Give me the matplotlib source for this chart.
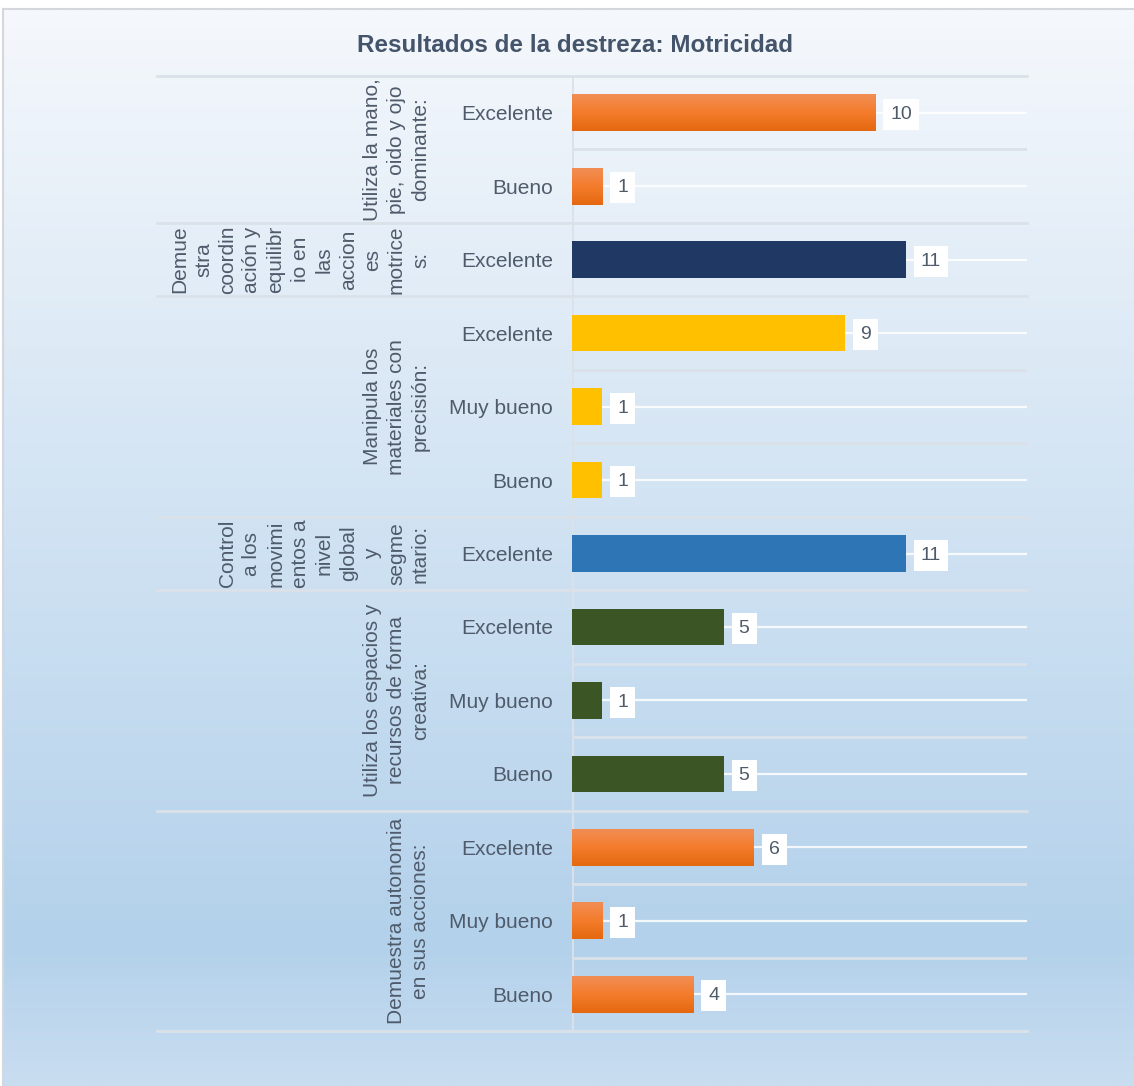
import numpy as np
import matplotlib.pyplot as plt
from matplotlib.colors import LinearSegmentedColormap

plt.rcParams['font.family'] = ['Liberation Sans', 'DejaVu Sans']

# datos
group_labels = [
    'Utiliza la mano,\npie, oido y ojo\ndominante:',
    'Demue\nstra\ncoordin\nación y\nequilibr\nio en\nlas\naccion\nes\nmotrice\ns:',
    'Manipula los\nmateriales con\nprecisión:',
    'Control\na los\nmovimi\nentos a\nnivel\nglobal\ny\nsegme\nntario:',
    'Utiliza los espacios y\nrecursos de forma\ncreativa:',
    'Demuestra autonomia\nen sus acciones:',
]
group_levels = [
    ['Excelente', 'Bueno'],
    ['Excelente'],
    ['Excelente', 'Muy bueno', 'Bueno'],
    ['Excelente'],
    ['Excelente', 'Muy bueno', 'Bueno'],
    ['Excelente', 'Muy bueno', 'Bueno'],
]
group_values = [
    [10, 1],
    [11],
    [9, 1, 1],
    [11],
    [5, 1, 5],
    [6, 1, 4],
]
title = 'Resultados de la destreza: Motricidad'

# estilos
group_colors = ['#f07a2a', '#1f3864', '#ffc000', '#2e75b6', '#3b5524', '#f07a2a']
group_gradient = [True, False, False, False, False, True]
text_color = '#4f5b6b'
grid_color = '#dbe1e9'

# filas
rows_lab, rows_val, rows_col, rows_grad = [], [], [], []
group_start = []
for g, levels in enumerate(group_levels):
    group_start.append(len(rows_lab))
    for lev, v in zip(levels, group_values[g]):
        rows_lab.append(lev)
        rows_val.append(v)
        rows_col.append(group_colors[g])
        rows_grad.append(group_gradient[g])
n = len(rows_lab)
y = np.arange(n)
group_end = group_start[1:] + [n]

W, H = 1134, 1086
fig = plt.figure(figsize=(W / 100, H / 100), dpi=100)

# fondo degradado
bg = fig.add_axes([3 / W, 0, 1 - 3 / W, (H - 9) / H])
bg_cmap = LinearSegmentedColormap.from_list(
    'bg', [(0, '#f5f8fc'), (0.87, '#b3d1eb'), (1.0, '#c9ddf0')])
bg.imshow(np.linspace(0, 1, 512).reshape(-1, 1), cmap=bg_cmap, aspect='auto',
          extent=[0, 1, 0, 1], origin='upper')
bg.set_xticks([])
bg.set_yticks([])
for s in ['right', 'bottom']:
    bg.spines[s].set_visible(False)
for s in ['top', 'left']:
    bg.spines[s].set_color('#d4d8dd')
    bg.spines[s].set_linewidth(1.5)

ax = fig.add_axes([572 / W, (H - 1031) / H, 455 / W, 955 / H])
ax.patch.set_alpha(0)

bars = ax.barh(y, rows_val, height=0.5, color=rows_col, zorder=3)

# degradado naranja
orange_cmap = LinearSegmentedColormap.from_list('or', ['#f18d55', '#f47c2b', '#e4680f'])
for b, grad in zip(bars, rows_grad):
    if grad:
        x0, y0, w, h = b.get_x(), b.get_y(), b.get_width(), b.get_height()
        ax.imshow(np.linspace(0, 1, 64).reshape(-1, 1), cmap=orange_cmap, aspect='auto',
                  extent=[x0, x0 + w, y0 + h, y0], origin='upper', zorder=4)

# lineas
ax.hlines(y, 0, 15, color='white', lw=1.6, alpha=0.85, zorder=1)
inner = [i - 0.5 for i in range(n) if i not in group_start]
ax.hlines(inner, 0, 15, color=grid_color, lw=2, zorder=2)
ytr = ax.get_yaxis_transform()
for b in group_start + [n]:
    ax.plot([-0.912, 1.0], [b - 0.5, b - 0.5], color=grid_color, lw=2,
            transform=ytr, clip_on=False, zorder=2)
ax.axvline(0, color=grid_color, lw=2, zorder=2)

# etiquetas de datos
for yi, v in zip(y, rows_val):
    ax.annotate(f'{v}', xy=(v, yi), xytext=(10.8, -1.2), textcoords='offset points',
                ha='left', va='center', fontsize=14, color=text_color, zorder=6,
                bbox=dict(boxstyle='square,pad=0.36', fc='white', ec='none'))

# etiquetas de grupo
for g, lab in enumerate(group_labels):
    cy = (group_start[g] + group_end[g] - 1) / 2
    ax.text(-0.312, cy, lab, transform=ytr, rotation=90, ha='right', va='center',
            multialignment='center', fontsize=15, color=text_color, linespacing=1.34)

ax.set_yticks(y)
ax.set_yticklabels(rows_lab, fontsize=15, color=text_color)
ax.tick_params(axis='y', length=0, pad=13.7)
ax.set_xticks([])
for s in ax.spines.values():
    s.set_visible(False)
ax.set_xlim(0, 15)
ax.set_ylim(n - 0.5, -0.5)

fig.text(575 / W, 1 - 45 / H, title, ha='center', va='center', fontsize=17.5,
         fontweight='bold', color='#44546a')

fig.savefig('out.png', dpi=100)
